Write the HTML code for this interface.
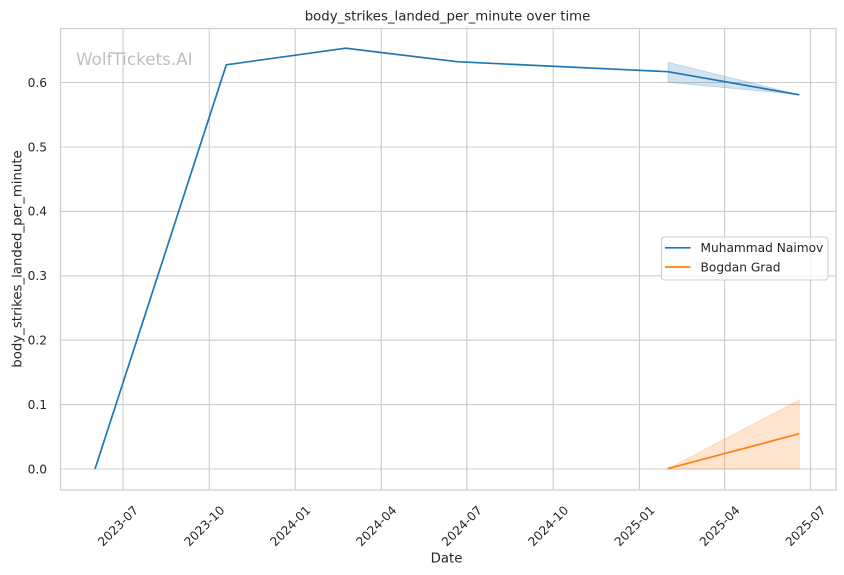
<!DOCTYPE html>
<html>
<head>
<meta charset="utf-8">
<style>
  html, body { margin: 0; padding: 0; background: #ffffff; }
  svg { display: block; }
  text { font-family: "DejaVu Sans", "Liberation Sans", sans-serif; fill: #262626; }
</style>
</head>
<body>
<svg width="844" height="575" viewBox="0 0 844 575" xmlns="http://www.w3.org/2000/svg">
  <rect x="0" y="0" width="844" height="575" fill="#ffffff"/>

  <!-- grid lines -->
  <g stroke="#cccccc" stroke-width="1.1">
    <line x1="123" y1="28" x2="123" y2="490"/>
    <line x1="209.3" y1="28" x2="209.3" y2="490"/>
    <line x1="295.3" y1="28" x2="295.3" y2="490"/>
    <line x1="381.3" y1="28" x2="381.3" y2="490"/>
    <line x1="466.8" y1="28" x2="466.8" y2="490"/>
    <line x1="553.2" y1="28" x2="553.2" y2="490"/>
    <line x1="639.5" y1="28" x2="639.5" y2="490"/>
    <line x1="724.6" y1="28" x2="724.6" y2="490"/>
    <line x1="810.5" y1="28" x2="810.5" y2="490"/>

    <line x1="60" y1="469" x2="836" y2="469"/>
    <line x1="60" y1="404.6" x2="836" y2="404.6"/>
    <line x1="60" y1="340.2" x2="836" y2="340.2"/>
    <line x1="60" y1="275.8" x2="836" y2="275.8"/>
    <line x1="60" y1="211.4" x2="836" y2="211.4"/>
    <line x1="60" y1="147" x2="836" y2="147"/>
    <line x1="60" y1="82.5" x2="836" y2="82.5"/>
  </g>

  <!-- spines -->
  <rect x="60.5" y="28.5" width="775.5" height="461.5" fill="none" stroke="#cccccc" stroke-width="1.2"/>

  <!-- watermark -->
  <text x="76" y="65" font-size="16.8" style="fill:#bfbfbf">WolfTickets.AI</text>

  <!-- confidence bands -->
  <polygon points="668,62.3 799.3,94.7 668,82.3" fill="#1f77b4" fill-opacity="0.2" stroke="#1f77b4" stroke-opacity="0.2" stroke-width="1"/>
  <polygon points="667.5,469 799.3,400 799.3,469" fill="#ff7f0e" fill-opacity="0.2" stroke="#ff7f0e" stroke-opacity="0.2" stroke-width="1"/>

  <!-- series -->
  <polyline points="95,469 226.3,64.8 345.7,48.2 457,61.7 668,71.7 799.3,94.8" fill="none" stroke="#1f77b4" stroke-width="1.7" stroke-linejoin="round" stroke-linecap="butt"/>
  <polyline points="667.5,468.7 799.3,433.7" fill="none" stroke="#ff7f0e" stroke-width="1.7" stroke-linecap="butt"/>

  <!-- y tick labels -->
  <g font-size="12.2" text-anchor="end">
    <text x="47" y="473.3">0.0</text>
    <text x="47" y="408.9">0.1</text>
    <text x="47" y="344.5">0.2</text>
    <text x="47" y="280.1">0.3</text>
    <text x="47" y="215.7">0.4</text>
    <text x="47" y="151.3">0.5</text>
    <text x="47" y="86.8">0.6</text>
  </g>

  <!-- x tick labels -->
  <g font-size="12.2" text-anchor="middle">
    <text transform="translate(121,529) rotate(-45)">2023-07</text>
    <text transform="translate(207.3,529) rotate(-45)">2023-10</text>
    <text transform="translate(293.3,529) rotate(-45)">2024-01</text>
    <text transform="translate(379.3,529) rotate(-45)">2024-04</text>
    <text transform="translate(464.8,529) rotate(-45)">2024-07</text>
    <text transform="translate(551.2,529) rotate(-45)">2024-10</text>
    <text transform="translate(637.5,529) rotate(-45)">2025-01</text>
    <text transform="translate(722.6,529) rotate(-45)">2025-04</text>
    <text transform="translate(808.5,529) rotate(-45)">2025-07</text>
  </g>

  <!-- axis labels -->
  <text x="446.5" y="562.5" font-size="13.3" text-anchor="middle">Date</text>
  <text transform="translate(21.5,259) rotate(-90)" font-size="13.3" text-anchor="middle">body_strikes_landed_per_minute</text>

  <!-- title -->
  <text x="447.5" y="20.5" font-size="13.3" text-anchor="middle">body_strikes_landed_per_minute over time</text>

  <!-- legend -->
  <rect x="661.5" y="237" width="166.5" height="43" rx="3" ry="3" fill="#ffffff" fill-opacity="0.8" stroke="#cccccc" stroke-width="1"/>
  <line x1="665" y1="247.8" x2="690.5" y2="247.8" stroke="#1f77b4" stroke-width="1.7"/>
  <line x1="665" y1="267" x2="690.5" y2="267" stroke="#ff7f0e" stroke-width="1.7"/>
  <g font-size="12.2">
    <text x="700.5" y="252.2">Muhammad Naimov</text>
    <text x="700.5" y="271.4">Bogdan Grad</text>
  </g>
</svg>
</body>
</html>
